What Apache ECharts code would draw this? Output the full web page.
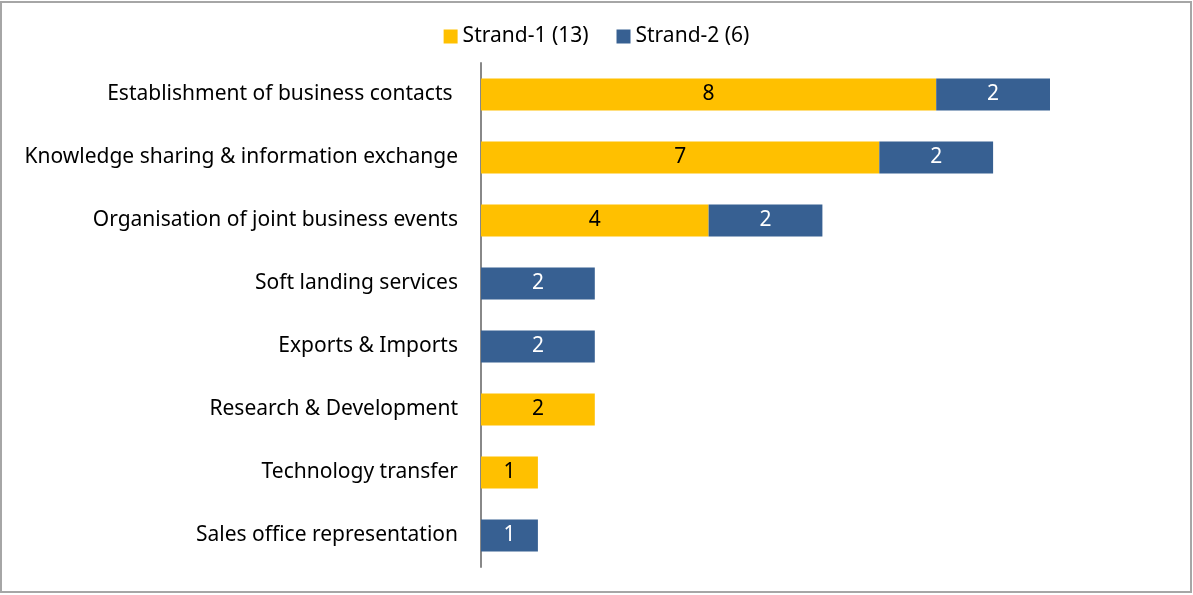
<!DOCTYPE html>
<html>
<head>
<meta charset="utf-8">
<script src="https://cdn.jsdelivr.net/npm/echarts@6/dist/echarts.min.js"></script>
<style>
html,body{margin:0;padding:0;background:#fff;}
#chart{width:1193px;height:595px;}
</style>
</head>
<body>
<div id="chart"></div>
<script>
const categories = [
  "Establishment of business contacts ",
  "Knowledge sharing & information exchange",
  "Organisation of joint business events",
  "Soft landing services",
  "Exports & Imports",
  "Research & Development",
  "Technology transfer",
  "Sales office representation"
];
const strand1 = [8, 7, 4, null, null, 2, 1, null];
const strand2 = [2, 2, 2, 2, 2, null, null, 1];
const seriesNames = ["Strand-1 (13)", "Strand-2 (6)"];

const FONT = "'Noto Sans', 'Open Sans', sans-serif";
const FS = 21;
const chart = echarts.init(document.getElementById('chart'));
chart.setOption({
  animation: false,
  textStyle: { fontFamily: FONT },
  graphic: [{
    type: 'rect',
    shape: { x: 1, y: 2, width: 1190, height: 590 },
    style: { fill: 'none', stroke: '#a6a6a6', lineWidth: 2 },
    silent: true
  }],
  legend: {
    top: 21,
    left: 'center',
    icon: 'rect',
    itemWidth: 14,
    itemHeight: 14,
    itemGap: 28,
    textStyle: { fontSize: FS, color: '#000', fontFamily: FONT },
    data: seriesNames
  },
  grid: { left: 481, right: 143, top: 63, bottom: 28, containLabel: false },
  xAxis: {
    type: 'value', min: 0, max: 10,
    axisLine: { show: false }, axisTick: { show: false },
    axisLabel: { show: false }, splitLine: { show: false }
  },
  yAxis: {
    type: 'category',
    data: categories,
    inverse: true,
    axisLine: { show: true, lineStyle: { color: '#888', width: 2 } },
    axisTick: { show: false },
    axisLabel: { fontSize: FS, color: '#000', margin: 23, fontFamily: FONT }
  },
  series: [
    {
      name: seriesNames[0], type: 'bar', stack: 's', data: strand1,
      barWidth: 32,
      itemStyle: { color: '#FFC000' },
      label: { show: true, position: 'inside', color: '#000', fontSize: FS, fontFamily: FONT }
    },
    {
      name: seriesNames[1], type: 'bar', stack: 's', data: strand2,
      barWidth: 32,
      itemStyle: { color: '#376092' },
      label: { show: true, position: 'inside', color: '#fff', fontSize: FS, fontFamily: FONT }
    }
  ]
});
</script>
</body>
</html>
